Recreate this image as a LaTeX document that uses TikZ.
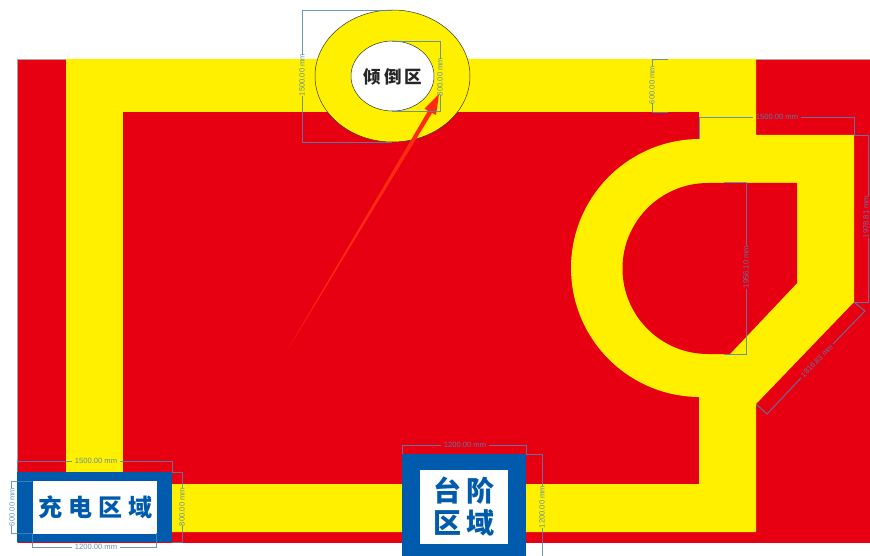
\documentclass[tikz,border=0pt]{standalone}
\usepackage{fontspec}
\setmainfont{Liberation Sans}
\newfontfamily\cjk{Noto Sans CJK SC}
\definecolor{zonered}{HTML}{E60012}
\definecolor{zoneyellow}{HTML}{FFF000}
\definecolor{signblue}{HTML}{005BAC}
\definecolor{dimblue}{HTML}{4F86B4}
\definecolor{arrowred}{HTML}{FF2A10}
\tikzset{
  redfill/.style={fill=zonered,draw=none},
  yellowfill/.style={fill=zoneyellow,draw=none},
  bluefill/.style={fill=signblue,draw=none},
  whitefill/.style={fill=white,draw=none},
  dimline/.style={draw=dimblue,draw opacity=.85,line width=.9pt},
  dimtext/.style={text=dimblue,text opacity=.9,font=\fontsize{7.6}{8}\selectfont,inner sep=0pt},
  signtext/.style={text=signblue,font=\cjk\bfseries,inner sep=0pt,align=center},
}
\begin{document}
\begin{tikzpicture}[x=1pt,y=-1pt]
\useasboundingbox (0,0) rectangle (870,556);
\clip (0,0) rectangle (870,556);
% base
\fill[redfill] (17,59) rectangle (870,543);
\draw[black!35,line width=.5pt] (17,543) -- (17,59) -- (870,59);
% yellow bands
\fill[yellowfill] (66,59) -- (756,59) -- (756,135) -- (854,135) -- (854,302) -- (756,404)
  -- (756,532) -- (66,532) -- cycle;
\fill[redfill] (123,112) -- (699,112) -- (699,484) -- (123,484) -- cycle;
\fill[yellowfill] (700,268) circle [radius=129];
\fill[yellowfill] (699,112) rectangle (756,140);
\fill[yellowfill] (699,396) rectangle (756,484);
% hole
\fill[redfill] (708,183) -- (797,183) -- (797,283) -- (730,354) -- (708,354)
  arc [start angle=-270,end angle=-90,radius=85.5] -- cycle;
% tilt zone
\filldraw[fill=zoneyellow,draw=black!80,line width=.5pt] (392.5,76) circle [x radius=77.5,y radius=66];
\filldraw[fill=white,draw=black!80,line width=.5pt] (392.5,76) circle [x radius=41.5,y radius=35];
\node[text=black!85,font=\cjk\bfseries\fontsize{17.5}{20}\selectfont,inner sep=0pt] (tilt) at (393,77) {倾\hspace{3pt}倒\hspace{3pt}区};
% arrow
\fill[arrowred] (288,349) -- (428,111) -- (424.5,108.5) -- (439,94) -- (436,115) -- (432,113) -- cycle;
% charging sign
\fill[bluefill] (17,472) rectangle (172,542);
\fill[whitefill] (32.5,481) rectangle (156.5,533.5);
\node[signtext,font=\cjk\bfseries\fontsize{24}{26}\selectfont] (charge) at (95,507) {充\hspace{6pt}电\hspace{6pt}区\hspace{6pt}域};
% step sign
\fill[bluefill] (402,454) rectangle (526,556);
\fill[whitefill] (420,470) rectangle (508,544);
\node[signtext,font=\cjk\bfseries\fontsize{28}{32}\selectfont] (step) at (464,507) {台\hspace{5pt}阶\\区\hspace{5pt}域};
% dimensions: circle outer
\draw[dimline] (392,10) -- (302,10) -- (302,55);
\draw[dimline] (302,96) -- (302,142) -- (392,142);
\node[dimtext,rotate=90] (d1) at (302,75) {1500.00 mm};
% circle inner
\draw[dimline] (392,41) -- (440,41) -- (440,59);
\draw[dimline] (440,95) -- (440,111) -- (392,111);
\node[dimtext,rotate=90] (d2) at (440,77) {800.00 mm};
% top band
\draw[dimline] (668,59) -- (652,59) -- (652,66);
\draw[dimline] (652,103) -- (652,112) -- (668,112);
\node[dimtext,rotate=90] (d3) at (652,85) {600.00 mm};
% width right
\draw[dimline] (699,139) -- (699,117) -- (753,117);
\draw[dimline] (801,117) -- (854,117) -- (854,135);
\node[dimtext] (d4) at (777,117) {1500.00 mm};
% right edge
\draw[dimline] (854,135) -- (868.5,135) -- (868.5,196);
\draw[dimline] (868.5,238) -- (868.5,302) -- (854,302);
\node[dimtext,rotate=90] (d5) at (866,217) {1978.81 mm};
% hole height
\draw[dimline] (724,182) -- (746,182) -- (746,246);
\draw[dimline] (746,289) -- (746,354) -- (724,354);
\node[dimtext,rotate=90] (d6) at (746,267) {1956.10 mm};
% diagonal
\draw[dimline] (854,302) -- (865,311) -- (833,344);
\draw[dimline] (801,378) -- (767,414) -- (756,404);
\node[dimtext,rotate=46] (d7) at (817,361) {1816.83 mm};
% charging sign dims
\draw[dimline] (17,472) -- (17,461) -- (72,461);
\draw[dimline] (120,461) -- (172,461) -- (172,472);
\node[dimtext] (d8) at (96,461) {1500.00 mm};
\draw[dimline] (172,472) -- (182,472) -- (182,488);
\draw[dimline] (182,526) -- (182,542) -- (172,542);
\node[dimtext,rotate=90] (d9) at (182,507) {800.00 mm};
\draw[dimline] (32,481) -- (11,481) -- (11,488);
\draw[dimline] (11,526) -- (11,533) -- (32,533);
\node[dimtext,rotate=90] (d10) at (12,507) {600.00 mm};
\draw[dimline] (32.5,533) -- (32.5,547) -- (72,547);
\draw[dimline] (120,547) -- (156.5,547) -- (156.5,533);
\node[dimtext] (d11) at (96,547) {1200.00 mm};
% step sign dims
\draw[dimline] (402,454) -- (402,445) -- (441,445);
\draw[dimline] (489,445) -- (526,445) -- (526,454);
\node[dimtext] (d12) at (465,445) {1200.00 mm};
\draw[dimline] (526,454) -- (542,454) -- (542,486);
\draw[dimline] (542,528) -- (542,556);
\node[dimtext,rotate=90] (d13) at (542,507) {1200.00 mm};
\end{tikzpicture}
\end{document}
